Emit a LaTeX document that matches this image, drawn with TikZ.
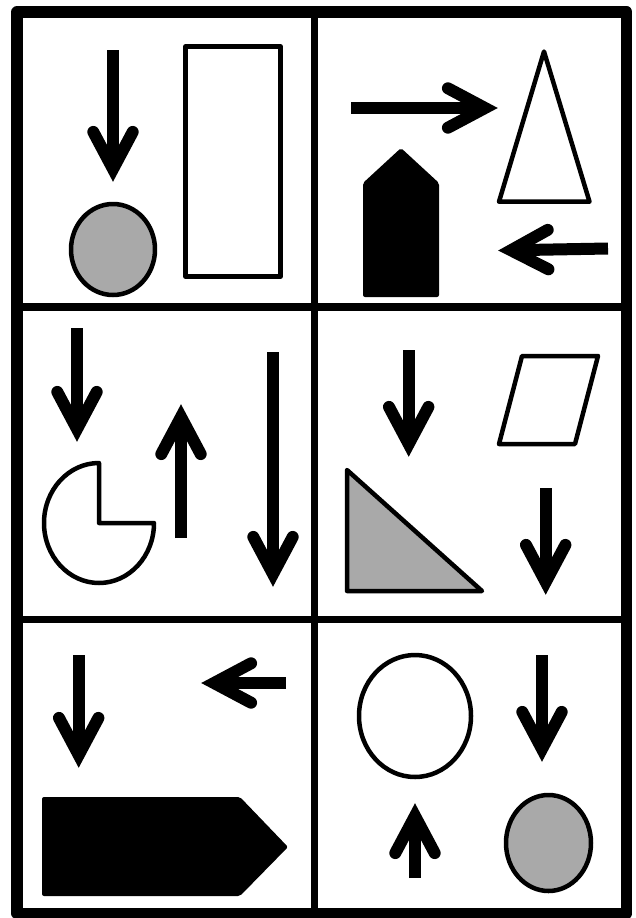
\documentclass[tikz,border=0pt]{standalone}
\usetikzlibrary{calc}
\definecolor{shade}{RGB}{169,169,169}
\tikzset{
  shaftline/.style={line width=12pt, line cap=butt},
  headline/.style={line width=12pt, line cap=round, line join=miter},
  outline/.style={line width=4.5pt, line join=round},
  framebox/.style={line width=11.5pt, line join=round},
  divider/.style={line width=7.5pt},
}
\newcommand\puzarrow[2]{%
  \coordinate (pv) at ($#2!13pt!#1$);
  \draw[shaftline] #1 -- (pv);
  \draw[headline] ($(pv)!42pt!28:#1$) -- (pv) -- ($(pv)!42pt!-28:#1$);
}
\begin{document}
\begin{tikzpicture}[x=1pt,y=-1pt]
\useasboundingbox (0,0) rectangle (636,918);
\fill[white] (0,0) rectangle (636,918);
% frame and dividers
\draw[framebox] (17,12) rectangle (626.7,913.5);
\draw[divider] (314.5,12) -- (314.5,913.5);
\draw[divider] (17,307) -- (626.7,307);
\draw[divider] (17,619.5) -- (626.7,619.5);
% cell 1
\puzarrow{(113,50)}{(113,182)}
\draw[outline, fill=shade] (113,249.5) ellipse [x radius=42pt, y radius=45.5pt];
\draw[outline] (185.5,46.5) rectangle (280.5,276.5);
% cell 2
\puzarrow{(351,108)}{(498,108)}
\draw[outline] (544,51.5) -- (589.5,201.7) -- (499,201.7) -- cycle;
\fill[rounded corners=2pt] (363,183) -- (401,148) -- (439,183) -- (439,297) -- (363,297) -- cycle;
\puzarrow{(608,248.5)}{(498,250.5)}
% cell 3
\puzarrow{(77,328)}{(77,442)}
\draw[outline] (99,523) -- (99,463) arc[start angle=90, end angle=360, x radius=55pt, y radius=60pt] -- cycle;
\puzarrow{(181,538)}{(181,404)}
\puzarrow{(273,352)}{(273,587)}
% cell 4
\puzarrow{(408.7,350)}{(408.7,457)}
\draw[outline] (522,356) -- (598,356) -- (575,444) -- (499,444) -- cycle;
\draw[outline, fill=shade] (347,470) -- (347,591) -- (482,591) -- cycle;
\puzarrow{(545.7,488)}{(545.7,595)}
% cell 5
\puzarrow{(78.7,655)}{(78.7,768)}
\puzarrow{(286,683)}{(201,683)}
\fill[rounded corners=2pt] (42,797) -- (240,797) -- (288,847) -- (240,896) -- (42,896) -- cycle;
% cell 6
\draw[outline] (415,716) ellipse [x radius=56pt, y radius=61pt];
\puzarrow{(542,655)}{(542,762)}
\puzarrow{(415,878)}{(415,803)}
\draw[outline, fill=shade] (548.5,843) ellipse [x radius=42.5pt, y radius=48pt];
\end{tikzpicture}
\end{document}
